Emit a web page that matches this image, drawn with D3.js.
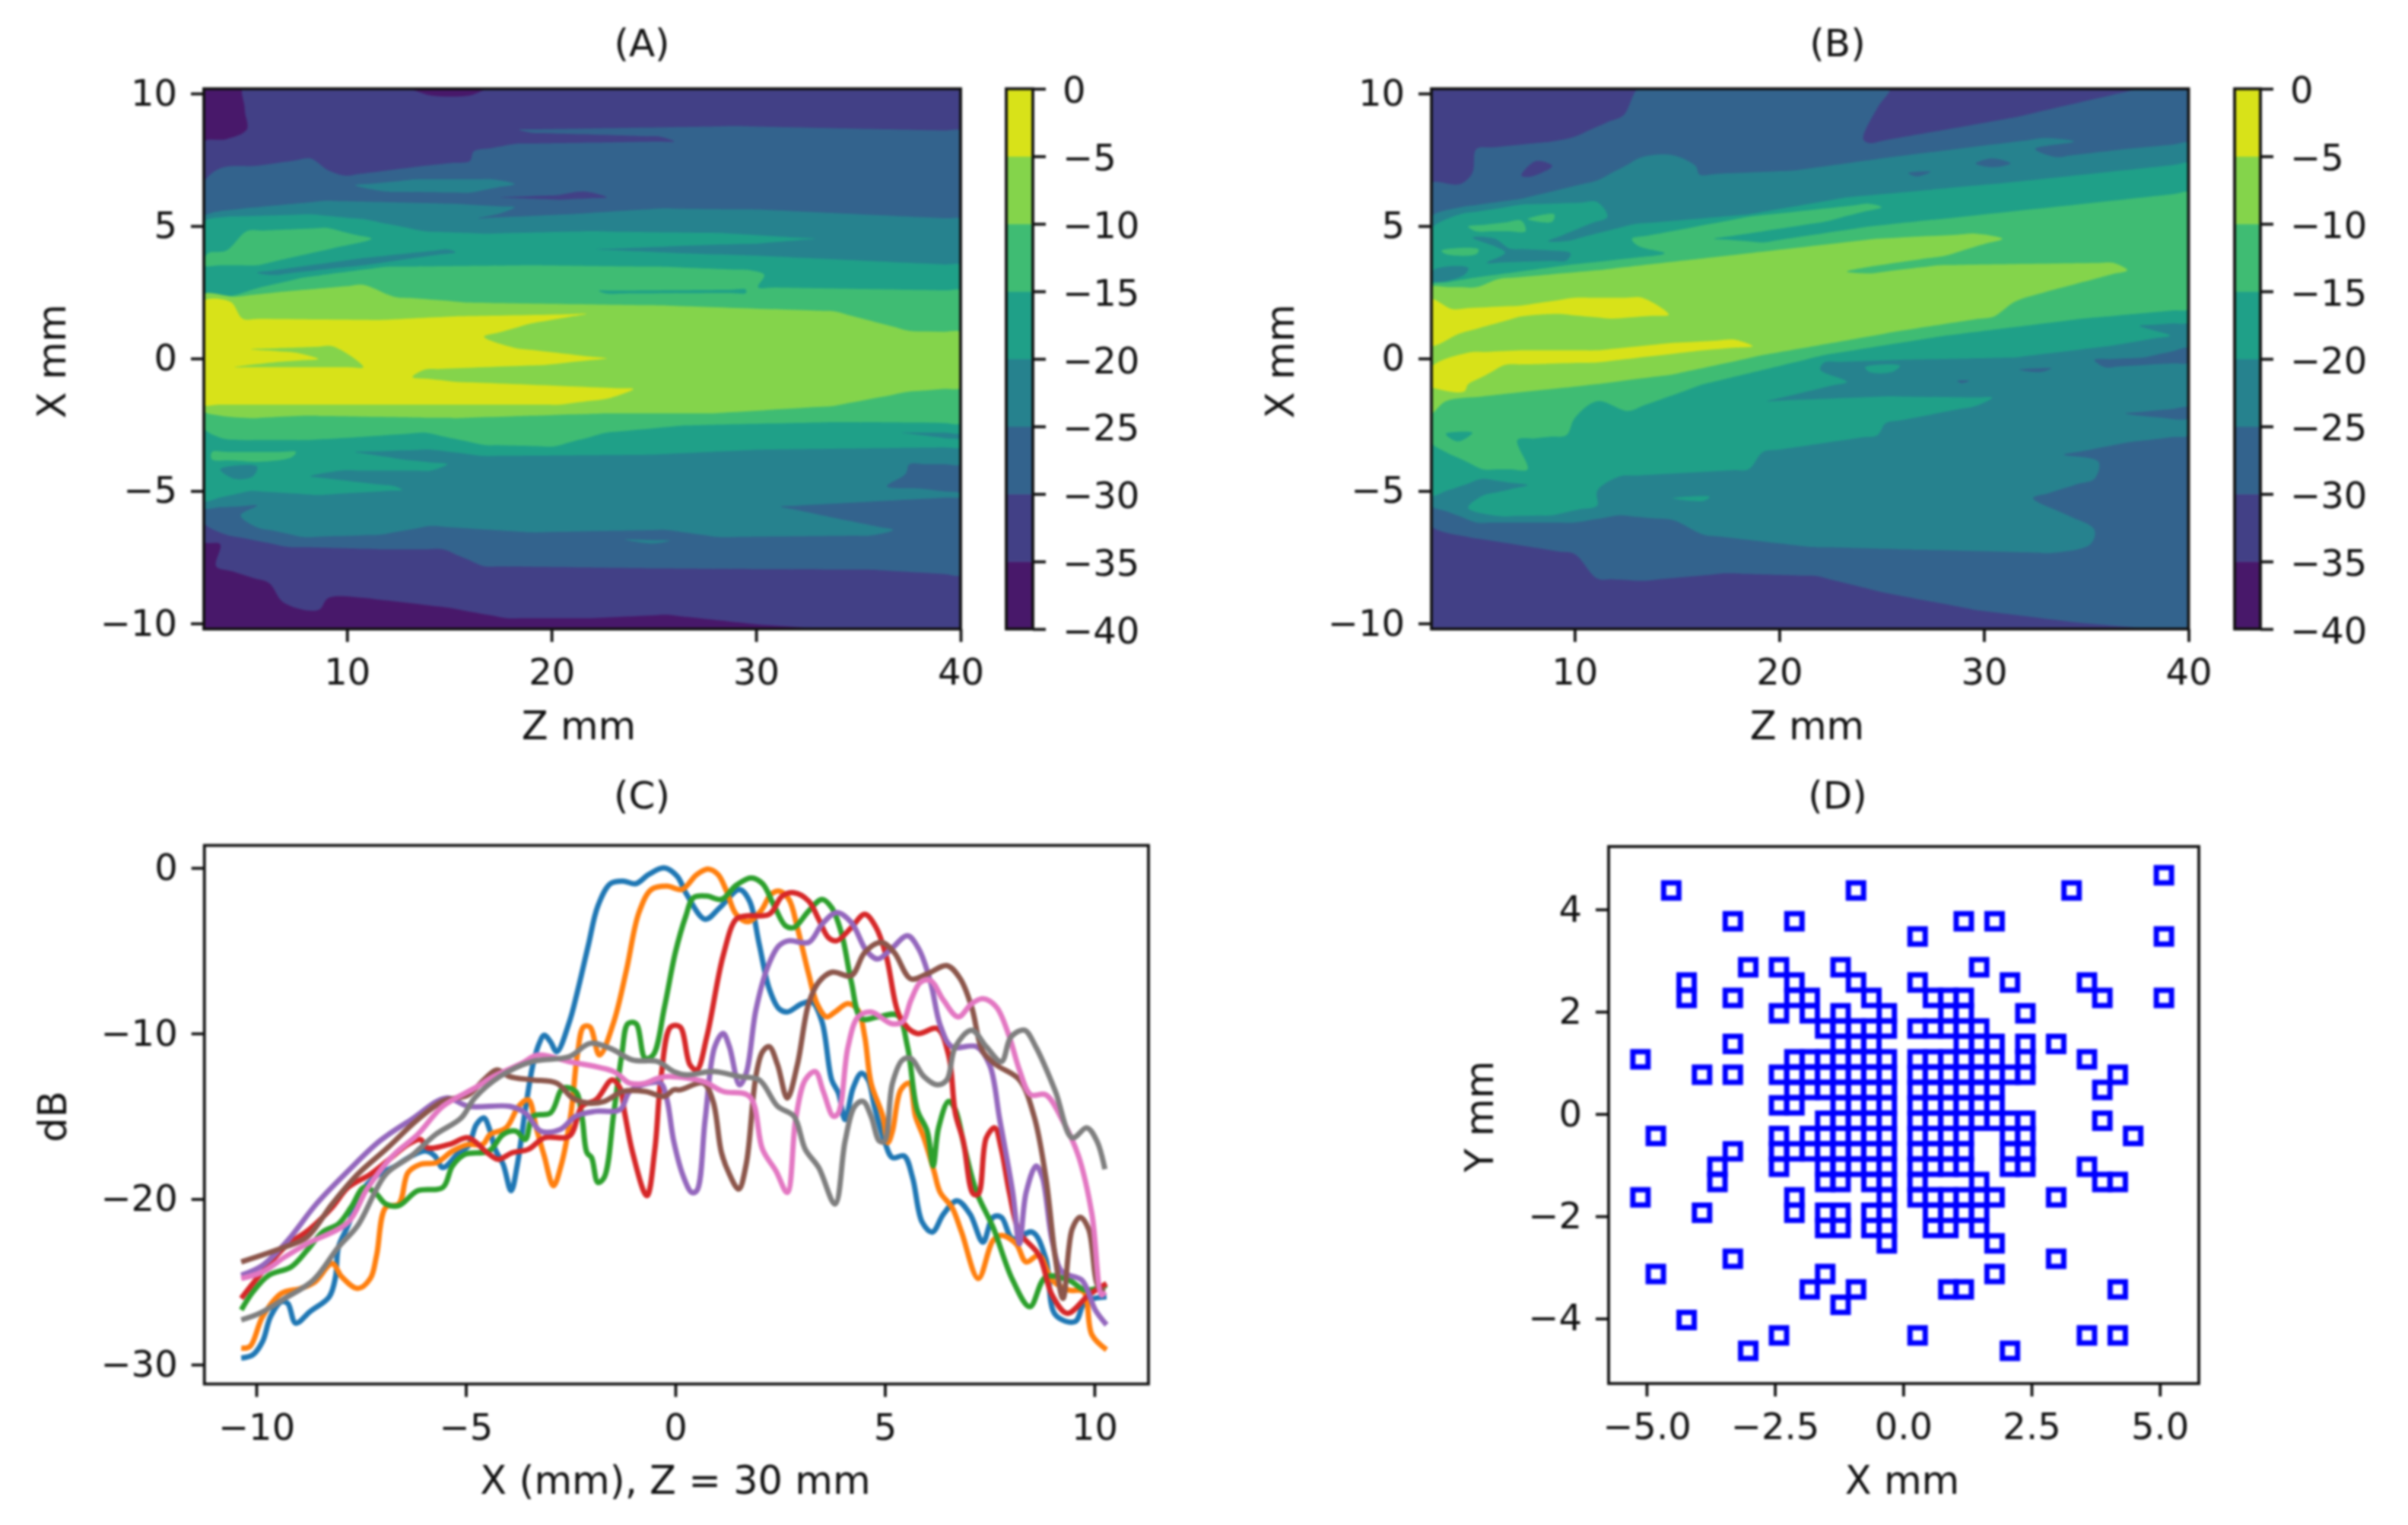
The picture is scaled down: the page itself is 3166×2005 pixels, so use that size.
<!DOCTYPE html>
<html><head><meta charset="utf-8">
<script src="https://cdn.jsdelivr.net/npm/d3@7"></script>
<style>
html,body{margin:0;padding:0;background:#fff}
svg{display:block;filter:blur(1.5px)}
text{font-family:"DejaVu Sans",sans-serif;fill:#111}
</style></head><body><svg id="c" width="3166" height="2005"></svg>
<script>
// ---- contour levels
const levels=[-40,-35,-30,-25,-20,-15,-10,-5,0];
const levelTicks=[0,-5,-10,-15,-20,-25,-30,-35,-40];

// ---- Panel A: regions above each level, as [Z mm, X mm] outlines
const aAbove35=[[[4.9,10.18],[13,10.18],[14.1,9.93],[16,9.93],[16.9,10.18],[40,10.18],[40,-10.21],[33.4,-10.21],[30.1,-10.04],[25.6,-9.67],[21.9,-9.8],[17.8,-9.8],[14.9,-9.4],[10.8,-9.03],[9.1,-9.03],[8.6,-9.49],[6.9,-9.21],[6.2,-8.48],[3.6,-7.84],[3.8,-7.01],[3,-6.92],[3,8.19],[4.1,8.28],[5.1,8.64]]];
const aAbove30=[[[3,6.63],[3.8,7.18],[5.6,7.27],[8.2,7.55],[9.1,7.09],[9.9,6.9],[13.8,7.27],[16,7.45],[16.2,7.82],[18.2,8.1],[26,8.19],[25.3,8.37],[19,8.52],[18.4,8.64],[29,8.77],[40,8.59],[40,-8.17],[35.6,-7.97],[26.4,-7.93],[16.7,-7.84],[14.7,-7.2],[11.6,-7.2],[7.1,-7.11],[4.1,-6.65],[3,-6.19]],
 [[17.5,6.08],[20.3,6.17],[21.6,6.3],[22.7,6.08],[20.4,5.99]]];
const aAbove25=[[[3,5.35],[4.9,5.66],[9,5.95],[15.3,5.84],[18.2,5.71],[17.5,5.48],[16.4,5.29],[20.8,5.44],[25.3,5.66],[30.1,5.62],[40,5.26],[40,-3.99],[37.5,-3.99],[37.3,-4.36],[36.4,-4.82],[38,-4.91],[40,-5.09],[40,-5.22],[31.2,-5.59],[33.8,-6.01],[36.7,-6.47],[35.6,-6.68],[28.2,-6.74],[25.6,-6.47],[19,-6.56],[14.1,-6.32],[11.6,-6.65],[7.9,-6.74],[5.6,-6.37],[4.8,-5.92],[5.6,-5.55],[3,-5.64]],
 [[10.4,6.54],[13.4,6.76],[17.1,6.76],[18.2,6.58],[16,6.26],[11.9,6.3]],
 [[23.6,-6.83],[25.8,-6.87],[24.9,-6.98]]];
const aAbove20=[[[3,5.16],[4.1,5.35],[8.2,5.44],[10.8,5.26],[13.8,4.8],[16.7,4.71],[21.9,4.8],[28.2,4.74],[32.9,4.52],[30.1,4.34],[26.4,4.25],[22.1,4.12],[26.4,3.97],[30.1,3.88],[40,3.52],[40,-2.8],[37.1,-2.8],[40,-3.08],[40,-3.35],[30.1,-3.44],[24.9,-3.63],[16.7,-3.68],[14.1,-3.44],[10.4,-3.53],[12.7,-3.81],[14.9,-3.99],[14.1,-4.23],[9.7,-4.23],[8.2,-4.45],[12.3,-4.82],[12.7,-4.96],[8.6,-5.15],[5.3,-5],[3,-5.37]],
 [[5.6,3.24],[10.8,3.79],[14.9,4.12],[15.3,4.01],[10.8,3.52],[6.4,3.15]],
 [[3.8,-4.18],[5.6,-4.08],[5.4,-4.45],[4.5,-4.54]]];
const aAbove15=[[[3,3.52],[3.2,3.97],[4.1,4.07],[5.1,4.8],[9,4.93],[11.2,4.52],[9.3,4.16],[5.6,3.52]],
 [[3,2.42],[4.1,2.33],[5.8,2.69],[7.9,3.06],[11.9,3.46],[19,3.52],[25.6,3.46],[29.7,3.33],[30.4,3.15],[30.1,2.69],[40,2.56],[40,-2.44],[33.8,-2.4],[26.4,-2.53],[22.7,-2.8],[20.1,-3.32],[16.7,-3.26],[13.8,-2.8],[10.1,-2.99],[7.9,-3.08],[4.9,-3.08],[3.8,-2.99],[3,-2.62]],
 [[22.3,2.56],[29.5,2.6],[29.5,2.47],[22.7,2.45]],
 [[3.4,-3.53],[7.5,-3.53],[7.3,-3.72],[5.6,-3.9],[3.4,-3.81]]];
const aAbove10=[[[3,2.42],[4.5,2.33],[6.7,2.51],[10.8,2.78],[12.3,2.33],[16,2.11],[25.6,2],[33.8,1.78],[37.5,1.04],[40,0.99],[40,-1.1],[37.5,-1.25],[33.8,-1.79],[27.9,-2.07],[22.7,-2.07],[19,-2.16],[15.3,-2.25],[7.9,-2.16],[5.3,-2.25],[3.8,-2.16],[3,-1.98]]];
const aAbove5=[[[3,2.18],[4.3,2.14],[4.9,1.5],[11.6,1.45],[15.3,1.59],[21.7,1.68],[19,1.32],[16.7,0.82],[18.2,0.4],[22.7,0],[19.7,-0.24],[13.8,-0.42],[13.2,-0.7],[15.3,-0.88],[24,-1.15],[22.7,-1.52],[20.4,-1.74],[3,-1.74]],
 [[5.3,0.35],[9.3,0.46],[10.8,-0.33],[4.5,-0.33],[6.4,-0.15],[8.6,-0.02],[7.5,0.22]]];

// ---- Panel B
const bAbove30=[[[13.1,10.18],[12.4,9.19],[10,8.37],[8.9,8.19],[5.2,7.91],[5,7],[4.4,6.58],[3,6.63],[3,-6.32],[4.8,-6.74],[10,-7.38],[11.1,-8.3],[13.3,-8.39],[17.4,-8.11],[21.8,-8.21],[25.2,-8.85],[29.6,-9.49],[34.4,-9.95],[38.2,-10.21],[40,-10.21],[40,10.18],[37.6,10.18],[31.5,9.1],[24.4,8.13],[24.1,8.28],[24.8,9.47],[25.4,10.18]],
 [[7.4,6.9],[8.1,7.45],[8.9,7.27],[7.9,6.87]]];
const bAbove25=[[[3,5.35],[4.4,5.71],[7.4,6.03],[11.1,6.72],[13.3,7.6],[14.8,7.67],[15.9,7.27],[16.1,6.94],[20.7,7.09],[25.5,7.6],[29.6,8],[33,8.32],[34.4,8.19],[32.5,7.91],[33.5,7.6],[37,7.91],[40,8.13],[40,-2.89],[37,-3.17],[33.9,-3.63],[35.6,-3.9],[35.4,-4.54],[32.4,-5.27],[34.1,-5.92],[35.4,-6.47],[35.2,-7.01],[33.3,-7.34],[25.9,-7.2],[21.5,-7.11],[16.3,-6.65],[14.8,-6.1],[12.2,-5.92],[10,-6.19],[5.2,-6.19],[3,-5.55]],
 [[36.9,-2.07],[40,-1.85],[40,-2.25],[38.5,-2.22]],
 [[35.4,-0.05],[37.8,0.04],[40,0.4],[40,-0.15],[35.9,-0.33]],
 [[31.7,-0.42],[33.3,-0.37],[32.8,-0.51]],
 [[29.6,7.36],[30.4,7.55],[31.3,7.36],[30.4,7.22]],
 [[26.3,7],[27.4,7.05],[26.7,6.87]],
 [[28.7,-0.84],[29.3,-0.84],[28.9,-0.93]]];
const bAbove20=[[[3,4.89],[4.4,5.44],[7.4,5.81],[11.1,5.9],[11.6,5.35],[8.7,4.43],[9.6,4.43],[12.9,5.07],[18.5,5.44],[23.3,6.08],[31.1,6.63],[40,7.36],[40,1.37],[37.6,1.23],[39.1,0.86],[36.3,0.49],[31.5,0.04],[25.9,-0.05],[22.2,-0.15],[22,-0.42],[23.3,-0.88],[19.4,-1.61],[25.2,-1.43],[30.4,-1.48],[29.6,-1.79],[25.2,-2.44],[24.8,-2.89],[19.2,-3.53],[18.5,-4.18],[12.2,-4.45],[11.1,-5],[11.1,-5.55],[8.9,-5.92],[6.3,-5.95],[4.8,-5.64],[5.5,-5.18],[7.7,-4.78],[5.5,-4.54],[3,-5.18]],
 [[3.1,3.33],[4.8,3.42],[4.6,3.15],[3.1,2.91]],
 [[5,4.56],[6.1,4.52],[6.8,4.16],[8.9,4.07],[9.8,3.97],[9.6,3.7],[5.7,3.61],[6.6,4]],
 [[14.8,-5.27],[16.6,-5.22],[16.3,-5.37]],
 [[24.2,-0.33],[25.9,-0.27],[25.5,-0.51],[24.4,-0.51]]];
const bAbove15=[[[3,2.78],[5.2,3.06],[9.6,3.52],[12.8,3.79],[14.4,3.97],[13.1,4.25],[12.8,4.52],[18.5,5.35],[24.4,5.84],[25,5.71],[22.2,5.16],[16.8,4.52],[19.2,4.38],[24.4,4.98],[40,6.26],[40,1.87],[34.8,1.5],[28.1,0.86],[22.2,0.13],[16.3,-0.97],[12.6,-1.98],[11.1,-1.61],[10,-2.25],[9.6,-2.89],[7.2,-3.08],[7.7,-4.18],[5.5,-4.18],[3.7,-3.53],[3,-3.17]],
 [[3.7,-2.84],[5,-2.8],[4.3,-3.13]],
 [[3.5,4.07],[5.3,4.12],[5.2,3.94],[3.7,3.94]],
 [[4.8,4.98],[7.4,5.2],[7.6,4.8],[5.2,4.8]],
 [[7.7,5.26],[9,5.44],[8.9,5.16]]];
const bAbove10=[[[3,2.69],[5.2,2.69],[6.3,3],[11.1,3.33],[18.5,3.97],[24.8,4.52],[29.6,4.71],[30.9,4.52],[28.1,3.88],[24.4,3.46],[23.3,3.28],[24.4,3.21],[27.8,3.52],[36.3,3.61],[37,3.33],[33,2.51],[31.5,2.14],[30.5,1.59],[25.9,1.04],[19.2,0.13],[14.8,-0.6],[11.1,-0.97],[5.5,-1.43],[3.7,-1.61],[3,-2.07]]];
const bAbove5=[[[3,2.23],[4,1.87],[7.4,2],[10,2.29],[13.3,2.29],[14.6,1.65],[11.8,1.5],[9.2,1.68],[7.4,1.59],[4.4,0.95],[3,0.49]],
 [[3,-0.33],[4.8,0.22],[7.4,0.31],[11.1,0.31],[14.8,0.59],[17.8,0.71],[18.7,0.46],[16.3,0.31],[11.1,-0.15],[6.6,-0.24],[4.8,-0.97],[4.6,-1.25],[3.3,-1.15],[3,-1.06]]];

// ---- Panel C: lateral profiles [X mm, dB]
const profile1=[[-10.36,-29.6],[-10.08,-29.4],[-9.85,-28.6],[-9.66,-27.1],[-9.4,-26.2],[-9.25,-26.3],[-9.06,-27.5],[-8.72,-26.8],[-8.26,-25.9],[-8.11,-24.7],[-8.04,-22.9],[-7.81,-21.6],[-7.51,-19.6],[-7.13,-18.6],[-6.68,-18],[-6.3,-17.4],[-5.96,-17.1],[-5.74,-17.4],[-5.55,-18.1],[-5.17,-17.2],[-4.94,-16.8],[-4.75,-15.5],[-4.57,-15.1],[-4.42,-15.9],[-4.3,-17],[-4.11,-17.9],[-3.92,-19.5],[-3.77,-17.9],[-3.58,-14.6],[-3.4,-11.9],[-3.25,-10.6],[-3.13,-10.1],[-2.98,-10.5],[-2.83,-11.1],[-2.53,-9.3],[-2.34,-7.5],[-2.08,-4.7],[-1.85,-2.3],[-1.55,-0.95],[-1.25,-0.8],[-0.94,-0.95],[-0.64,-0.4],[-0.27,0],[0.04,-0.5],[0.27,-1.6],[0.71,-3.1],[1.06,-2.4],[1.53,-1.3],[1.77,-2],[2,-4.6],[2.24,-7.3],[2.47,-8.5],[2.67,-8.7],[3.02,-8.2],[3.26,-8.1],[3.5,-9.3],[3.73,-12.8],[3.89,-13.6],[4.05,-15.2],[4.24,-13.3],[4.44,-12.4],[4.6,-12.8],[4.75,-14.4],[4.99,-16.5],[5.18,-17.5],[5.46,-17.4],[5.66,-18.7],[5.89,-21.4],[6.13,-22],[6.4,-20.9],[6.72,-20.1],[7.03,-20.9],[7.34,-22.6],[7.58,-21.1],[7.78,-21.1],[8.05,-22.4],[8.52,-22],[8.84,-23.6],[9.07,-27],[9.54,-27.4],[9.78,-26.2],[10.29,-25.9]];
const profile2=[[-10.36,-29],[-10.15,-28.9],[-9.85,-27.1],[-9.4,-25.7],[-8.94,-25.4],[-8.6,-25],[-8.19,-23.9],[-7.96,-24.7],[-7.58,-25.4],[-7.28,-24.8],[-7.13,-23.4],[-6.91,-20.5],[-6.6,-20.3],[-6.38,-18.4],[-6.08,-17.9],[-5.7,-17.8],[-5.32,-17.1],[-4.94,-16.7],[-4.6,-16.7],[-4.42,-16.1],[-4.04,-15.7],[-3.74,-14.4],[-3.51,-14],[-3.32,-15.7],[-3.13,-17.4],[-2.91,-19.2],[-2.72,-17.9],[-2.49,-14.8],[-2.34,-11.3],[-2.19,-9.6],[-2.04,-9.6],[-1.81,-11.3],[-1.47,-9.3],[-1.17,-6.2],[-0.87,-2.7],[-0.57,-1.3],[-0.2,-1.1],[0.16,-1.3],[0.51,-0.4],[0.79,-0.07],[1.02,-0.4],[1.22,-1.4],[1.45,-2.8],[1.73,-3.25],[2.04,-2.6],[2.28,-1.6],[2.47,-1.4],[2.71,-1.9],[2.91,-3.6],[3.18,-6.4],[3.38,-8.2],[3.61,-9],[3.81,-8.7],[4.12,-8.2],[4.36,-8.6],[4.52,-10.2],[4.67,-13],[4.95,-15],[5.07,-16.6],[5.18,-15.9],[5.38,-13.4],[5.58,-13],[5.73,-15],[5.93,-16.3],[6.17,-18.3],[6.32,-19.6],[6.6,-20.5],[6.83,-22],[7.23,-24.8],[7.58,-22.5],[7.78,-22.2],[8.13,-22.7],[8.37,-23.8],[8.68,-23.4],[8.99,-24.9],[9.39,-25.5],[9.74,-25.6],[9.94,-28.2],[10.29,-29.1]];
const profile3=[[-10.36,-26.7],[-10.08,-25.6],[-9.7,-24.6],[-9.17,-24.1],[-8.79,-23.1],[-8.42,-22],[-8.04,-21.5],[-7.74,-20.5],[-7.43,-19.3],[-7.17,-19.6],[-6.91,-20.3],[-6.6,-20.4],[-6.15,-19.5],[-5.55,-19.3],[-5.32,-18],[-5.02,-17.3],[-4.45,-17.1],[-4.11,-16.1],[-3.81,-15.9],[-3.58,-16.4],[-3.4,-15],[-2.98,-14.8],[-2.68,-13.3],[-2.38,-13.5],[-2.23,-15],[-2.11,-17.2],[-2,-17.5],[-1.85,-19],[-1.7,-18.7],[-1.47,-14.8],[-1.28,-11.3],[-1.13,-9.4],[-0.94,-9.4],[-0.72,-11.5],[-0.53,-11.3],[-0.26,-8.4],[0,-5.1],[0.25,-2.9],[0.43,-1.8],[0.75,-1.7],[1.1,-1.9],[1.45,-1.05],[1.81,-0.6],[2.08,-0.95],[2.36,-2.3],[2.63,-3.5],[2.83,-3.6],[3.18,-2.6],[3.5,-1.9],[3.73,-2.4],[3.97,-4],[4.2,-6.9],[4.44,-9.1],[4.83,-9],[5.3,-8.9],[5.54,-10.8],[5.77,-14.6],[6.01,-15.9],[6.15,-18],[6.28,-15.7],[6.52,-14.1],[6.68,-14.6],[6.91,-17],[7.19,-19.6],[7.58,-21.7],[8.05,-24.9],[8.46,-26.5],[8.84,-24.7],[9.39,-24.9],[9.78,-25.5],[10.29,-25.2]];
const profile4=[[-10.36,-26],[-9.92,-24.6],[-9.32,-22.9],[-8.72,-21.8],[-8.19,-20.5],[-7.81,-19.3],[-7.28,-18.5],[-6.83,-17.6],[-6.38,-16.7],[-6.08,-16.4],[-5.92,-16.9],[-5.4,-16.7],[-4.94,-16.3],[-4.49,-17.2],[-4.23,-17.6],[-3.89,-17.2],[-3.51,-17],[-3.13,-16.3],[-2.53,-16.2],[-2.23,-14.4],[-1.89,-14],[-1.51,-12.8],[-1.32,-13.3],[-1.21,-14.8],[-1.02,-17.2],[-0.68,-19.8],[-0.49,-17],[-0.34,-12.6],[-0.11,-9.6],[0.11,-9.6],[0.35,-11.9],[0.51,-12.2],[0.75,-10.2],[1.14,-5.3],[1.45,-3.1],[1.69,-2.9],[2.24,-2.8],[2.55,-1.7],[2.83,-1.5],[3.18,-2],[3.42,-3.1],[3.65,-4.2],[3.85,-4.4],[4.2,-3.6],[4.52,-2.8],[4.79,-3.6],[5.03,-5.3],[5.38,-9.1],[5.77,-10],[6.25,-9.7],[6.52,-11.3],[6.68,-14.8],[6.87,-16.5],[7.11,-19.7],[7.23,-19.7],[7.42,-16.3],[7.62,-15.7],[7.78,-17],[7.97,-19.6],[8.21,-22],[8.68,-23.4],[8.99,-25.8],[9.35,-26.9],[9.86,-25.8],[10.29,-25.1]];
const profile5=[[-10.36,-24.6],[-9.85,-24],[-9.25,-22.5],[-8.57,-20.3],[-7.81,-18.3],[-7.06,-16.5],[-6.3,-15.2],[-5.47,-13.9],[-4.94,-14.4],[-3.96,-14.4],[-3.58,-14.8],[-3.21,-15.9],[-2.75,-15.8],[-2.38,-15],[-1.92,-14.7],[-1.32,-14.6],[-1.09,-13.5],[-0.64,-13],[-0.35,-13],[-0.2,-14],[-0.04,-16.5],[0.2,-18.7],[0.39,-19.6],[0.51,-19.5],[0.71,-15.2],[0.94,-10.8],[1.14,-10],[1.29,-10.8],[1.53,-13.1],[1.69,-12.4],[1.92,-8.6],[2.2,-6],[2.47,-4.7],[2.71,-4.4],[3.18,-4.5],[3.5,-3.4],[3.85,-2.7],[4.2,-3.3],[4.56,-5],[4.83,-5.5],[5.15,-4.9],[5.54,-4.1],[5.81,-4.9],[6.09,-6.9],[6.32,-9.5],[6.6,-10.8],[7.19,-10.8],[7.5,-11.9],[7.74,-15.2],[8.05,-19.6],[8.21,-22.7],[8.37,-19.6],[8.61,-18],[8.76,-18.7],[8.99,-22.5],[9.23,-24.4],[9.7,-24.9],[10.02,-26.7],[10.29,-27.6]];
const profile6=[[-10.36,-23.8],[-9.32,-22.9],[-8.79,-22.3],[-8.19,-20.3],[-7.58,-18.5],[-6.91,-17],[-6.15,-15.2],[-5.55,-14.1],[-4.94,-13.7],[-4.57,-12.8],[-4.26,-12.2],[-3.96,-12.6],[-3.43,-12.8],[-2.83,-13],[-2.45,-13.9],[-2.08,-14.2],[-1.7,-14.1],[-1.25,-13.5],[-0.72,-13.5],[-0.26,-13.8],[-0.04,-13.4],[0.12,-13.4],[0.67,-13],[0.9,-14.1],[1.1,-17.2],[1.29,-18.5],[1.51,-19.4],[1.69,-17.9],[1.92,-12.6],[2.08,-11.1],[2.24,-10.8],[2.44,-11.9],[2.67,-13.9],[2.91,-11.9],[3.18,-8.2],[3.42,-6.9],[3.73,-6.3],[4.2,-6.5],[4.52,-5.1],[4.91,-4.5],[5.22,-5.1],[5.62,-6.7],[6.01,-6.4],[6.48,-5.9],[6.8,-6.7],[7.07,-8.4],[7.34,-11.1],[7.66,-11.9],[8.21,-12.8],[8.56,-15],[8.84,-18.7],[9.07,-23.6],[9.25,-26],[9.47,-21.8],[9.66,-21.1],[9.86,-21.8],[10.09,-25.3],[10.25,-25.6]];
const profile7=[[-10.36,-24.8],[-9.85,-24.4],[-9.32,-23.5],[-8.79,-22.7],[-7.81,-21.4],[-7.36,-19.4],[-6.75,-17.4],[-6.15,-16.1],[-5.55,-14.4],[-4.79,-13.3],[-4.34,-12.6],[-3.66,-11.8],[-3.28,-11.3],[-2.53,-11.7],[-1.47,-12.3],[-1.09,-13],[-0.72,-13],[-0.42,-12.7],[-0.12,-12.6],[0.67,-12.9],[1.14,-13.5],[1.77,-13.8],[2.08,-17],[2.4,-18.3],[2.67,-19.6],[2.87,-15.2],[3.1,-12.8],[3.34,-12.3],[3.53,-13.5],[3.77,-15],[3.89,-14.8],[4.12,-10.8],[4.36,-9],[4.67,-8.7],[5.15,-9.4],[5.42,-9.3],[5.62,-8],[5.85,-6.9],[6.09,-6.8],[6.4,-8],[6.75,-9],[7.07,-8.2],[7.34,-7.9],[7.66,-8.4],[7.97,-10.2],[8.21,-12.2],[8.48,-13.7],[8.84,-13.7],[9.23,-15.2],[9.62,-17.4],[9.94,-20.9],[10.17,-25.8],[10.25,-25.6]];
const profile8=[[-10.36,-27.3],[-9.92,-26.9],[-9.32,-26],[-8.64,-24.9],[-8.04,-22.9],[-7.58,-21.6],[-6.91,-18.5],[-6.3,-17.4],[-5.72,-16.1],[-5.11,-15.1],[-4.79,-13.9],[-4.19,-12.6],[-3.43,-11.7],[-2.53,-11.4],[-2.04,-10.6],[-1.55,-10.9],[-1.02,-11.6],[-0.42,-11.7],[-0.04,-12.3],[0.27,-12.5],[0.9,-12.3],[1.53,-12.6],[2,-12.8],[2.44,-14.4],[2.83,-15],[3.1,-17],[3.42,-18.1],[3.81,-20.3],[4.05,-16.5],[4.28,-14.4],[4.48,-14.1],[4.67,-15],[4.87,-16.5],[4.99,-16.5],[5.18,-13],[5.42,-11.6],[5.62,-11.5],[5.93,-12.6],[6.25,-13.1],[6.48,-12.8],[6.68,-10.8],[7.07,-9.8],[7.42,-10.8],[7.78,-11.7],[8.01,-10.2],[8.33,-9.8],[8.6,-10.8],[9.07,-13.5],[9.47,-16.3],[9.82,-15.7],[10.06,-16.5],[10.25,-18.2]];
const profileColors=["#1f77b4","#ff7f0e","#2ca02c","#d62728","#9467bd","#8c564b","#e377c2","#7f7f7f"];

// ---- Panel D: array elements; one list of X mm per Y row
const elementRowY=[4.67,4.37,3.77,3.47,2.87,2.57,2.27,1.97,1.67,1.37,1.07,0.77,0.47,0.17,-0.13,-0.43,-0.73,-1.03,-1.33,-1.63,-1.93,-2.23,-2.53,-2.83,-3.13,-3.43,-3.73,-4.03,-4.33,-4.63];
const elementRowX=[
[5.08],
[-4.52,-.92,3.28],
[-3.32,-2.12,1.18,1.78],
[.28,5.08],
[-3.02,-2.42,-1.22,1.48],
[-4.22,-2.12,-.92,.28,2.08,3.58],
[-4.22,-3.32,-2.12,-1.82,-.62,.58,.88,1.18,3.88,5.08],
[-2.42,-1.82,-1.22,-.32,.88,1.18,2.38],
[-1.52,-1.22,-.92,-.62,-.32,.28,.58,.88,1.18,1.48],
[-3.32,-1.22,-.92,-.62,1.18,1.48,1.78,2.38,2.98],
[-5.12,-2.12,-1.82,-1.52,-1.22,-.92,-.62,-.32,.28,.58,.88,1.18,1.48,1.78,2.38,3.58],
[-3.92,-3.32,-2.42,-2.12,-1.82,-1.52,-1.22,-.92,-.62,-.32,.28,.58,.88,1.18,1.48,1.78,2.08,2.38,4.18],
[-2.12,-1.82,-1.52,-1.22,-.92,-.62,-.32,.28,.58,.88,1.18,1.48,1.78,3.88],
[-2.42,-2.12,-1.22,-.92,-.62,-.32,.28,.58,.88,1.18,1.48,1.78],
[-1.52,-1.22,-.92,-.62,-.32,.28,.58,.88,1.18,1.48,1.78,2.08,2.38,3.88],
[-4.82,-2.42,-1.82,-1.52,-1.22,-.92,-.62,-.32,.28,.58,.88,1.18,2.08,2.38,4.48],
[-3.32,-2.42,-2.12,-1.82,-1.52,-1.22,-.92,-.62,-.32,.28,.58,.88,1.18,2.08,2.38],
[-3.62,-2.42,-1.52,-1.22,-.92,-.62,-.32,.28,.58,.88,1.18,2.08,2.38,3.58],
[-3.62,-1.52,-1.22,-.62,-.32,.28,1.48,3.88,4.18],
[-5.12,-2.12,-.32,.28,.58,.88,1.18,1.48,1.78,2.98],
[-3.92,-2.12,-1.52,-1.22,-.62,-.32,.58,.88,1.18,1.48],
[-1.52,-1.22,-.62,-.32,.58,.88,1.48],
[-.32,1.78],
[-3.32,2.98],
[-4.82,-1.52,1.78],
[-1.82,-.92,.88,1.18,4.18],
[-1.22],
[-4.22],
[-2.42,.28,3.58,4.18],
[-3.02,2.08]];

// ---- tick labels
const zTicks=[10,20,30,40], xTicks=[-10,-5,0,5,10];
const cXTicks=[-10,-5,0,5,10], cYTicks=[0,-10,-20,-30];
const dXTicks=[-5,-2.5,0,2.5,5], dYTicks=[-4,-2,0,2,4];

const svg=d3.select("#c");
const FS=48, LFS=51, TFS=50, TL=17, SW=3.8, PAD=18, PADB=22, CORNER=22;
const bandColor=i=>d3.interpolateViridis(((levels[i]+levels[i+1])/2+40)/40);

function axisStyle(g){
  g.select(".domain").remove();
  g.selectAll(".tick line").attr("stroke","#111").attr("stroke-width",SW);
  g.selectAll(".tick text").attr("font-size",FS).attr("fill","#111");
}
function frame(x0,x1,y0,y1){
  svg.append("rect").attr("x",x0).attr("y",y1).attr("width",x1-x0).attr("height",y0-y1)
    .attr("fill","none").attr("stroke","#111").attr("stroke-width",SW);
}
function label(t,x,y,rot,size){
  const e=svg.append("text").text(t).attr("font-size",size||LFS).attr("text-anchor","middle");
  if(rot) e.attr("transform",`translate(${x},${y}) rotate(-90)`);
  else e.attr("x",x).attr("y",y);
}
// add guide knots near each vertex so the smoothing only rounds the corners
function guided(pts){
  const out=[];
  pts.forEach((a,i)=>{
    const b=pts[(i+1)%pts.length], L=Math.hypot(b[0]-a[0],b[1]-a[1]);
    out.push(a);
    if(L>CORNER*2.4){
      const t=CORNER/L;
      out.push([a[0]+(b[0]-a[0])*t,a[1]+(b[1]-a[1])*t]);
      out.push([b[0]-(b[0]-a[0])*t,b[1]-(b[1]-a[1])*t]);
    }
  });
  return out;
}
function contourPanel(id,r,layers,baseBand,cbX,title,titleX,labelX,ylabelX){
  const x=d3.scaleLinear().domain([3,40]).range(r.x);
  const y=d3.scaleLinear().domain([-10.21,10.18]).range(r.y);
  const line=d3.line().curve(d3.curveCatmullRomClosed.alpha(0.5));
  svg.append("clipPath").attr("id",id).append("rect")
    .attr("x",r.x[0]).attr("y",r.y[1]).attr("width",r.x[1]-r.x[0]).attr("height",r.y[0]-r.y[1]);
  const g=svg.append("g").attr("clip-path",`url(#${id})`);
  g.append("rect").attr("x",r.x[0]).attr("y",r.y[1]).attr("width",r.x[1]-r.x[0]).attr("height",r.y[0]-r.y[1]).attr("fill",bandColor(baseBand));
  layers.forEach(([band,polys])=>{
    g.append("path").attr("d",polys.map(p=>line(guided(p.map(d=>[x(d[0]),y(d[1])])))).join(""))
     .attr("fill",bandColor(band)).attr("fill-rule","evenodd");
  });
  svg.append("g").attr("transform",`translate(0,${r.y[0]})`)
    .call(d3.axisBottom(x).tickValues(zTicks).tickSize(TL).tickSizeOuter(0).tickPadding(PADB)).call(axisStyle);
  svg.append("g").attr("transform",`translate(${r.x[0]},0)`)
    .call(d3.axisLeft(y).tickValues(xTicks).tickSize(TL).tickSizeOuter(0).tickPadding(PAD)).call(axisStyle);
  frame(r.x[0],r.x[1],r.y[0],r.y[1]);
  // colour bar
  const cb=d3.scaleLinear().domain([-40,0]).range(r.y);
  d3.range(levels.length-1).forEach(i=>{
    svg.append("rect").attr("x",cbX[0]).attr("width",cbX[1]-cbX[0])
      .attr("y",cb(levels[i+1])).attr("height",cb(levels[i])-cb(levels[i+1])+0.5).attr("fill",bandColor(i));
  });
  const cg=svg.append("g").attr("transform",`translate(${cbX[1]},0)`)
    .call(d3.axisRight(cb).tickValues(levelTicks).tickSize(TL).tickSizeOuter(0).tickPadding(PAD+4)).call(axisStyle);
  cg.selectAll(".tick text").attr("dy","0.38em");
  frame(cbX[0],cbX[1],r.y[0],r.y[1]);
  label(title,titleX,74,false,TFS);
  label("Z mm",labelX,972);
  label("X mm",ylabelX,475,true);
}
contourPanel("clipA",{x:[268,1263],y:[827,116.7]},
  [[1,aAbove35],[2,aAbove30],[3,aAbove25],[4,aAbove20],[5,aAbove15],[6,aAbove10],[7,aAbove5]],0,[1323,1358],"(A)",844,761,86);
contourPanel("clipB",{x:[1882,2877.5],y:[827,116.7]},
  [[2,bAbove30],[3,bAbove25],[4,bAbove20],[5,bAbove15],[6,bAbove10],[7,bAbove5]],1,[2938,2972],"(B)",2416,2376,1701);

// ---- Panel C
{
  const x=d3.scaleLinear().domain([-11.24,11.29]).range([268.7,1510]);
  const y=d3.scaleLinear().domain([-31.17,1.36]).range([1819.6,1111.5]);
  const line=d3.line().x(d=>x(d[0])).y(d=>y(d[1])).curve(d3.curveCatmullRom.alpha(0.5));
  [profile1,profile2,profile3,profile4,profile5,profile6,profile7,profile8].forEach((p,i)=>{
    svg.append("path").attr("d",line(p)).attr("fill","none").attr("stroke",profileColors[i])
      .attr("stroke-width",7).attr("stroke-linejoin","round");
  });
  svg.append("g").attr("transform","translate(0,1819.6)")
    .call(d3.axisBottom(x).tickValues(cXTicks).tickSize(TL).tickSizeOuter(0).tickPadding(PADB)).call(axisStyle);
  svg.append("g").attr("transform","translate(268.7,0)")
    .call(d3.axisLeft(y).tickValues(cYTicks).tickSize(TL).tickSizeOuter(0).tickPadding(PAD)).call(axisStyle);
  frame(268.7,1510,1819.6,1111.5);
  label("(C)",844,1063,false,TFS);
  label("X (mm), Z = 30 mm",888,1964);
  label("dB",87,1468,true);
}

// ---- Panel D
{
  const x=d3.scaleLinear().domain([-5.74,5.76]).range([2115,2891]);
  const y=d3.scaleLinear().domain([-5.27,5.23]).range([1819,1113]);
  const pts=elementRowY.flatMap((v,i)=>elementRowX[i].map(u=>[u,v]));
  svg.append("g").selectAll("path").data(pts).join("path")
    .attr("d",d3.symbol(d3.symbolSquare,400))
    .attr("transform",d=>`translate(${x(d[0])},${y(d[1])})`)
    .attr("fill","none").attr("stroke","#0000ff").attr("stroke-width",7);
  svg.append("g").attr("transform","translate(0,1819)")
    .call(d3.axisBottom(x).tickValues(dXTicks).tickFormat(d3.format(".1f")).tickSize(TL).tickSizeOuter(0).tickPadding(PADB)).call(axisStyle);
  svg.append("g").attr("transform","translate(2115,0)")
    .call(d3.axisLeft(y).tickValues(dYTicks).tickSize(TL).tickSizeOuter(0).tickPadding(PAD)).call(axisStyle);
  frame(2115,2891,1819,1113);
  label("(D)",2416,1063,false,TFS);
  label("X mm",2501,1964);
  label("Y mm",1963,1468,true);
}
</script></body></html>
